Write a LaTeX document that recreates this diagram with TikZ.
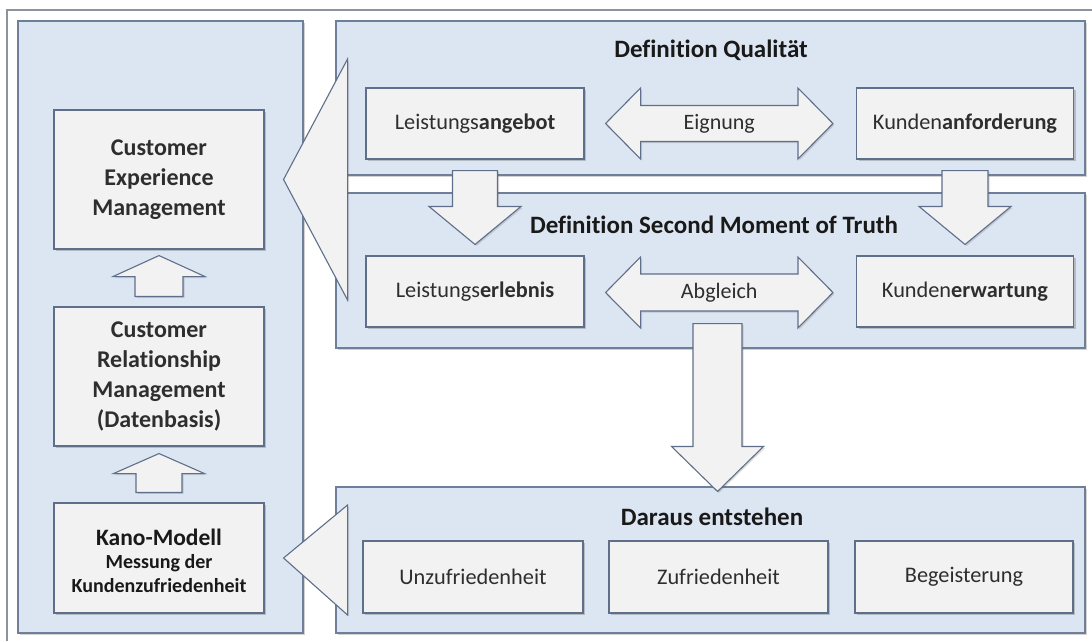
\documentclass[tikz,border=0pt]{standalone}
\usepackage{fontspec}
\setmainfont{Carlito}[Ligatures=NoCommon]
\usetikzlibrary{calc,shadows}

\definecolor{panelfill}{HTML}{DCE6F2}
\definecolor{panelline}{HTML}{6F7F9A}
\definecolor{boxfill}{HTML}{F2F2F2}
\definecolor{boxline}{HTML}{5F6F8A}
\definecolor{framecol}{HTML}{8C939C}
\definecolor{txt}{HTML}{2E2E2E}

\tikzset{
  softshadow/.style={drop shadow={shadow xshift=2pt, shadow yshift=-2pt, opacity=0.28, fill=black!70}},
  panel/.style={draw=panelline, fill=panelfill, line width=1.1pt, inner sep=0pt,
    drop shadow={shadow xshift=1.5pt, shadow yshift=-1.5pt, opacity=0.25, fill=black!70}},
  box/.style={draw=boxline, fill=boxfill, line width=1.1pt, text=txt, inner sep=0pt,
    align=center, font=\fontsize{22.3}{26}\selectfont, softshadow},
  bigbox/.style={box, font=\fontsize{24}{30}\selectfont\bfseries},
  paneltitle/.style={text=black!90, font=\fontsize{25}{28}\selectfont\bfseries, inner sep=0pt},
  arrowtext/.style={text=txt, font=\fontsize{22}{26}\selectfont, inner sep=0pt},
  blockarrow/.style={draw=boxline, fill=boxfill, line width=1.1pt, line join=miter,
    drop shadow={shadow xshift=1.5pt, shadow yshift=-1.5pt, opacity=0.2, fill=black!70}},
}

% vertical block arrow: shaft end, tip, shaft half width, head half width, signed head length
\newcommand\vblockarrow[5]{%
  \draw[blockarrow] ($(#1)+(-#3,0)$) -- ($(#2)+(-#3,#5)$) -- ($(#2)+(-#4,#5)$) -- (#2)
    -- ($(#2)+(#4,#5)$) -- ($(#2)+(#3,#5)$) -- ($(#1)+(#3,0)$) -- cycle;}
% horizontal double block arrow: left tip, right tip, shaft half width, head half width, head length
\newcommand\hdoublearrow[5]{%
  \draw[blockarrow] (#1) -- ($(#1)+(#5,-#4)$) -- ($(#1)+(#5,-#3)$) -- ($(#2)+(-#5,-#3)$)
    -- ($(#2)+(-#5,-#4)$) -- (#2) -- ($(#2)+(-#5,#4)$) -- ($(#2)+(-#5,#3)$)
    -- ($(#1)+(#5,#3)$) -- ($(#1)+(#5,#4)$) -- cycle;}

\begin{document}
\begin{tikzpicture}[x=1pt, y=-1pt]
  \useasboundingbox (0,0) rectangle (1092,641);
  \fill[white] (0,0) rectangle (1092,641);

  % outer frame
  \draw[framecol, line width=1.3pt] (7,641) -- (7,10) -- (1092,10);

  % panels
  \node[panel, minimum width=285pt, minimum height=612pt] (left) at (160.5,327) {};
  \node[panel, minimum width=749pt, minimum height=154pt] (top) at (710.5,98) {};
  \node[panel, minimum width=749pt, minimum height=155pt] (mid) at (710.5,270.5) {};
  \node[panel, minimum width=749pt, minimum height=146pt] (bot) at (710.5,560) {};

  % panel titles
  \node[paneltitle] (t1) at (711,50) {Definition Qualität};
  \node[paneltitle] (t2) at (714,225) {Definition Second Moment of Truth};
  \node[paneltitle] (t3) at (712,517) {Daraus entstehen};

  % left column
  \node[bigbox, minimum width=210pt, minimum height=139pt] (cem) at (159,179.5)
    {Customer\\Experience\\Management};
  \node[bigbox, minimum width=210pt, minimum height=139pt] (crm) at (159,376.5)
    {Customer\\Relationship\\Management\\(Datenbasis)};
  \node[box, minimum width=210pt, minimum height=110pt] (kano) at (159,558) {};
  \node[align=center, inner sep=0pt, text=black!90, font=\fontsize{20}{24}\selectfont\bfseries]
    (kanotext) at ($(kano.center)+(0,3)$)
    {\fontsize{23.5}{26}\selectfont Kano-Modell\\[-1pt]
     \fontsize{20}{24}\selectfont Messung der\\
     Kundenzufriedenheit};

  % quality panel
  \node[box, minimum width=218pt, minimum height=71pt] (angebot) at (475,123.5)
    {Leistungs\textbf{angebot}};
  \node[box, minimum width=217pt, minimum height=71pt] (anforderung) at (965,123.5)
    {Kunden\textbf{anforderung}};

  % second moment of truth panel
  \node[box, minimum width=218pt, minimum height=71pt] (erlebnis) at (475,291.5)
    {Leistungs\textbf{erlebnis}};
  \node[box, minimum width=217pt, minimum height=71pt] (erwartung) at (965,291.5)
    {Kunden\textbf{erwartung}};

  % outcome panel
  \node[box, minimum width=220pt, minimum height=72pt] (unzuf) at (473,577) {Unzufriedenheit};
  \node[box, minimum width=219pt, minimum height=72pt] (zuf) at (718.5,577) {Zufriedenheit};
  \node[box, minimum width=218pt, minimum height=72pt] (begeist) at (964,577) {Begeisterung};

  % double arrows between offer and requirement
  \coordinate (eL) at ($(angebot.east)+(21,0)$);
  \coordinate (eR) at ($(anforderung.west)+(-23,0)$);
  \hdoublearrow{eL}{eR}{18}{35.5}{35}
  \node[arrowtext] (eignung) at ($(eL)!0.5!(eR)$) {Eignung};

  \coordinate (aL) at ($(erlebnis.east)+(21,1)$);
  \coordinate (aR) at ($(erwartung.west)+(-23,1)$);
  \hdoublearrow{aL}{aR}{18.5}{35.5}{35}
  \node[arrowtext] (abgleich) at ($(aL)!0.5!(aR)$) {Abgleich};

  % down arrows from the quality panel into the second panel
  \coordinate (d1s) at ($(angebot.south)+(0,11)$);
  \coordinate (d1t) at ($(erlebnis.north)+(0,-11)$);
  \vblockarrow{d1s}{d1t}{22.5}{46}{-38}
  \coordinate (d2s) at ($(anforderung.south)+(0,11)$);
  \coordinate (d2t) at ($(erwartung.north)+(0,-11)$);
  \vblockarrow{d2s}{d2t}{23}{46}{-38}

  % big down arrow into the outcome panel
  \coordinate (d3s) at ($(mid.south)+(7,-25)$);
  \coordinate (d3t) at ($(bot.north)+(7,5)$);
  \vblockarrow{d3s}{d3t}{24.5}{46}{-45}

  % up arrows in the left column
  \coordinate (u1s) at ($(crm.north)+(0,-10)$);
  \coordinate (u1t) at ($(cem.south)+(0,6)$);
  \vblockarrow{u1s}{u1t}{24}{46}{21}
  \coordinate (u2s) at ($(kano.north)+(0,-10)$);
  \coordinate (u2t) at ($(crm.south)+(0,7)$);
  \vblockarrow{u2s}{u2t}{23}{45.5}{20}

  % wedge arrows pointing from the panels to the left column
  \draw[blockarrow] ($(cem.east)+(19,0)$) -- ($(cem.east)+(83,-120.5)$)
    -- ($(cem.east)+(83,120.5)$) -- cycle;
  \draw[blockarrow] ($(kano.east)+(19,0)$) -- ($(kano.east)+(83,-53)$)
    -- ($(kano.east)+(83,57)$) -- cycle;
\end{tikzpicture}
\end{document}
